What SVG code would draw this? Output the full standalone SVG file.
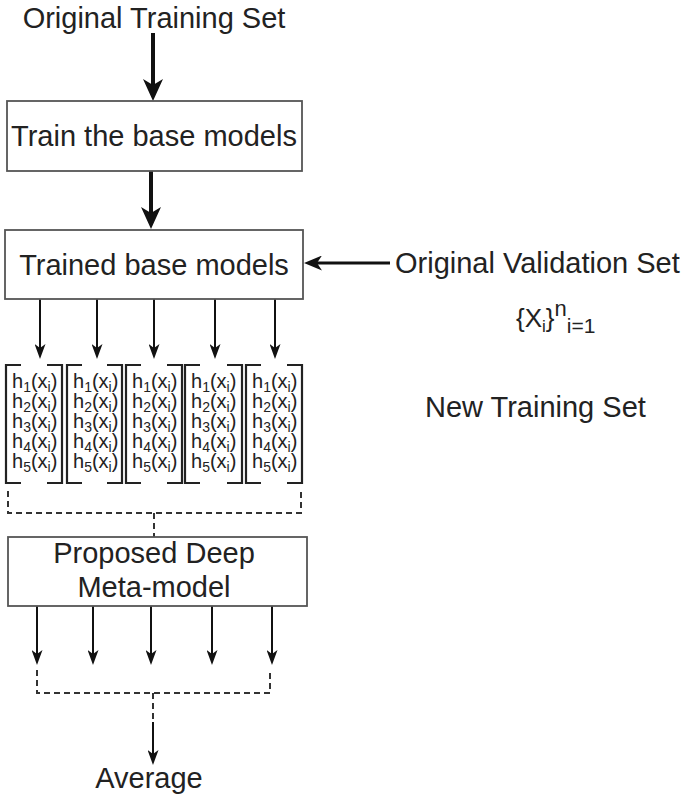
<svg xmlns="http://www.w3.org/2000/svg" width="687" height="796" viewBox="0 0 687 796">
<style>
.t{font-family:"Liberation Sans",Arial,sans-serif;font-size:29px;fill:#222}
.m{font-family:"Liberation Sans",Arial,sans-serif;font-size:20px;fill:#222}
.s{font-size:14px}
.box{fill:#fff;stroke:#555;stroke-width:1.8}
.br{fill:none;stroke:#222;stroke-width:2.2}
.big{stroke:#111;stroke-width:4;fill:none}
.med{stroke:#111;stroke-width:3;fill:none}
.sm{stroke:#111;stroke-width:2;fill:none}
.dash{stroke:#333;stroke-width:2;fill:none;stroke-dasharray:6 4}
</style>
<defs>
<marker id="ab" markerUnits="userSpaceOnUse" viewBox="0 0 22 20" markerWidth="22" markerHeight="20" refX="6" refY="10" orient="auto"><path d="M0,0 L22,10 L0,20 L6,10 z" fill="#111"/></marker>
<marker id="am" markerUnits="userSpaceOnUse" viewBox="0 0 18 15" markerWidth="18" markerHeight="15" refX="5" refY="7.5" orient="auto"><path d="M0,0 L18,7.5 L0,15 L5,7.5 z" fill="#111"/></marker>
<marker id="as" markerUnits="userSpaceOnUse" viewBox="0 0 15 11" markerWidth="15" markerHeight="11" refX="4" refY="5.5" orient="auto"><path d="M0,0 L15,5.5 L0,11 L4,5.5 z" fill="#111"/></marker>
</defs>

<g id="connectors">
<line class="big" x1="153" y1="33" x2="153" y2="85" marker-end="url(#ab)"/>
<line class="big" x1="151" y1="171" x2="151" y2="213" marker-end="url(#ab)"/>
<line class="med" x1="390" y1="263" x2="317" y2="263" marker-end="url(#am)"/>
<line class="sm" x1="40" y1="299" x2="40" y2="348" marker-end="url(#as)"/>
<line class="sm" x1="97" y1="299" x2="97" y2="348" marker-end="url(#as)"/>
<line class="sm" x1="154" y1="299" x2="154" y2="348" marker-end="url(#as)"/>
<line class="sm" x1="215" y1="299" x2="215" y2="348" marker-end="url(#as)"/>
<line class="sm" x1="275" y1="299" x2="275" y2="348" marker-end="url(#as)"/>
<path class="dash" d="M8,491 V513 H301 V491"/>
<line class="dash" x1="154" y1="513" x2="154" y2="537"/>
<line class="sm" x1="37" y1="606" x2="37" y2="654" marker-end="url(#as)"/>
<line class="sm" x1="93" y1="606" x2="93" y2="654" marker-end="url(#as)"/>
<line class="sm" x1="151" y1="606" x2="151" y2="654" marker-end="url(#as)"/>
<line class="sm" x1="212" y1="606" x2="212" y2="654" marker-end="url(#as)"/>
<line class="sm" x1="272" y1="606" x2="272" y2="654" marker-end="url(#as)"/>
<path class="dash" d="M37,670 V693 H270 V670"/>
<line class="dash" x1="153" y1="693" x2="153" y2="722"/>
<line class="sm" x1="153" y1="722" x2="153" y2="754" marker-end="url(#as)"/>
</g>

<g id="original-training-set"><text class="t" x="154" y="28" text-anchor="middle">Original Training Set</text></g>

<g id="train-base-models">
<rect class="box" x="7" y="101" width="295" height="70"/>
<text class="t" x="154" y="146" text-anchor="middle">Train the base models</text>
</g>

<g id="trained-base-models">
<rect class="box" x="5" y="230" width="298" height="69"/>
<text class="t" x="154" y="275" text-anchor="middle">Trained base models</text>
</g>

<g id="original-validation-set"><text class="t" x="395" y="273">Original Validation Set</text></g>

<g id="validation-formula">
<text class="t" x="516" y="327" style="font-size:26px">{X<tspan style="font-size:17px" dy="5">i</tspan><tspan dy="-5">}</tspan><tspan style="font-size:22px" dy="-11">n</tspan><tspan style="font-size:21px" dy="17">i=1</tspan></text>
</g>

<g id="new-training-set"><text class="t" x="425" y="417">New Training Set</text></g>

<g id="matrices">
<g id="matrix1" transform="translate(6,0)">
<path class="br" d="M15,365 H0 V483 H15 M41,365 H56 V483 H41"/>
<text class="m"><tspan x="6" y="388">h</tspan><tspan class="s" dy="4">1</tspan><tspan dy="-4">(x</tspan><tspan class="s" dy="4">i</tspan><tspan dy="-4">)</tspan><tspan x="6" y="408">h</tspan><tspan class="s" dy="4">2</tspan><tspan dy="-4">(x</tspan><tspan class="s" dy="4">i</tspan><tspan dy="-4">)</tspan><tspan x="6" y="428">h</tspan><tspan class="s" dy="4">3</tspan><tspan dy="-4">(x</tspan><tspan class="s" dy="4">i</tspan><tspan dy="-4">)</tspan><tspan x="6" y="448">h</tspan><tspan class="s" dy="4">4</tspan><tspan dy="-4">(x</tspan><tspan class="s" dy="4">i</tspan><tspan dy="-4">)</tspan><tspan x="6" y="468">h</tspan><tspan class="s" dy="4">5</tspan><tspan dy="-4">(x</tspan><tspan class="s" dy="4">i</tspan><tspan dy="-4">)</tspan></text>
</g>
<g id="matrix2" transform="translate(67,0)">
<path class="br" d="M15,365 H0 V483 H15 M40,365 H55 V483 H40"/>
<text class="m"><tspan x="6" y="388">h</tspan><tspan class="s" dy="4">1</tspan><tspan dy="-4">(x</tspan><tspan class="s" dy="4">i</tspan><tspan dy="-4">)</tspan><tspan x="6" y="408">h</tspan><tspan class="s" dy="4">2</tspan><tspan dy="-4">(x</tspan><tspan class="s" dy="4">i</tspan><tspan dy="-4">)</tspan><tspan x="6" y="428">h</tspan><tspan class="s" dy="4">3</tspan><tspan dy="-4">(x</tspan><tspan class="s" dy="4">i</tspan><tspan dy="-4">)</tspan><tspan x="6" y="448">h</tspan><tspan class="s" dy="4">4</tspan><tspan dy="-4">(x</tspan><tspan class="s" dy="4">i</tspan><tspan dy="-4">)</tspan><tspan x="6" y="468">h</tspan><tspan class="s" dy="4">5</tspan><tspan dy="-4">(x</tspan><tspan class="s" dy="4">i</tspan><tspan dy="-4">)</tspan></text>
</g>
<g id="matrix3" transform="translate(126,0)">
<path class="br" d="M15,365 H0 V483 H15 M41,365 H56 V483 H41"/>
<text class="m"><tspan x="6" y="388">h</tspan><tspan class="s" dy="4">1</tspan><tspan dy="-4">(x</tspan><tspan class="s" dy="4">i</tspan><tspan dy="-4">)</tspan><tspan x="6" y="408">h</tspan><tspan class="s" dy="4">2</tspan><tspan dy="-4">(x</tspan><tspan class="s" dy="4">i</tspan><tspan dy="-4">)</tspan><tspan x="6" y="428">h</tspan><tspan class="s" dy="4">3</tspan><tspan dy="-4">(x</tspan><tspan class="s" dy="4">i</tspan><tspan dy="-4">)</tspan><tspan x="6" y="448">h</tspan><tspan class="s" dy="4">4</tspan><tspan dy="-4">(x</tspan><tspan class="s" dy="4">i</tspan><tspan dy="-4">)</tspan><tspan x="6" y="468">h</tspan><tspan class="s" dy="4">5</tspan><tspan dy="-4">(x</tspan><tspan class="s" dy="4">i</tspan><tspan dy="-4">)</tspan></text>
</g>
<g id="matrix4" transform="translate(185,0)">
<path class="br" d="M15,365 H0 V483 H15 M42,365 H57 V483 H42"/>
<text class="m"><tspan x="6" y="388">h</tspan><tspan class="s" dy="4">1</tspan><tspan dy="-4">(x</tspan><tspan class="s" dy="4">i</tspan><tspan dy="-4">)</tspan><tspan x="6" y="408">h</tspan><tspan class="s" dy="4">2</tspan><tspan dy="-4">(x</tspan><tspan class="s" dy="4">i</tspan><tspan dy="-4">)</tspan><tspan x="6" y="428">h</tspan><tspan class="s" dy="4">3</tspan><tspan dy="-4">(x</tspan><tspan class="s" dy="4">i</tspan><tspan dy="-4">)</tspan><tspan x="6" y="448">h</tspan><tspan class="s" dy="4">4</tspan><tspan dy="-4">(x</tspan><tspan class="s" dy="4">i</tspan><tspan dy="-4">)</tspan><tspan x="6" y="468">h</tspan><tspan class="s" dy="4">5</tspan><tspan dy="-4">(x</tspan><tspan class="s" dy="4">i</tspan><tspan dy="-4">)</tspan></text>
</g>
<g id="matrix5" transform="translate(246,0)">
<path class="br" d="M15,365 H0 V483 H15 M41,365 H56 V483 H41"/>
<text class="m"><tspan x="6" y="388">h</tspan><tspan class="s" dy="4">1</tspan><tspan dy="-4">(x</tspan><tspan class="s" dy="4">i</tspan><tspan dy="-4">)</tspan><tspan x="6" y="408">h</tspan><tspan class="s" dy="4">2</tspan><tspan dy="-4">(x</tspan><tspan class="s" dy="4">i</tspan><tspan dy="-4">)</tspan><tspan x="6" y="428">h</tspan><tspan class="s" dy="4">3</tspan><tspan dy="-4">(x</tspan><tspan class="s" dy="4">i</tspan><tspan dy="-4">)</tspan><tspan x="6" y="448">h</tspan><tspan class="s" dy="4">4</tspan><tspan dy="-4">(x</tspan><tspan class="s" dy="4">i</tspan><tspan dy="-4">)</tspan><tspan x="6" y="468">h</tspan><tspan class="s" dy="4">5</tspan><tspan dy="-4">(x</tspan><tspan class="s" dy="4">i</tspan><tspan dy="-4">)</tspan></text>
</g>
</g>

<g id="meta-model">
<rect class="box" x="8" y="537" width="299" height="69"/>
<text class="t" x="154" y="563" text-anchor="middle">Proposed Deep</text>
<text class="t" x="154" y="597" text-anchor="middle">Meta-model</text>
</g>

<g id="average"><text class="t" x="149" y="788" text-anchor="middle">Average</text></g>
</svg>
